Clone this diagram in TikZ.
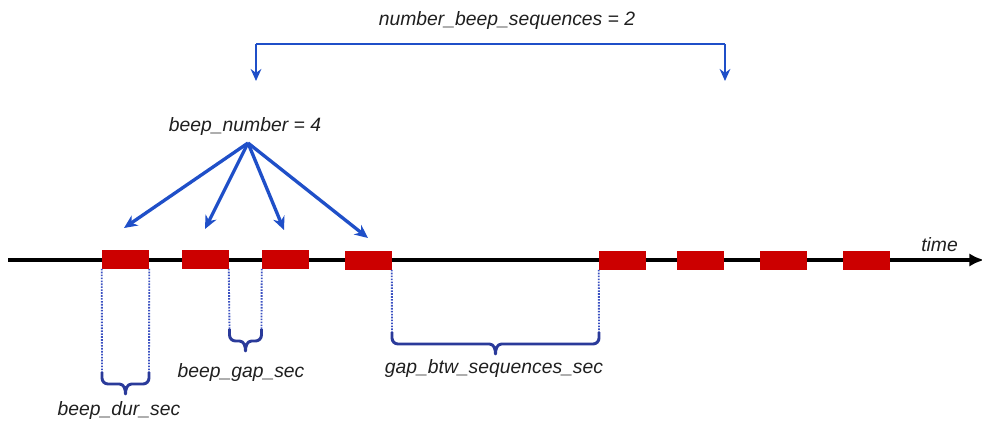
\documentclass[tikz,border=0pt]{standalone}
\usepackage{fontspec}
\setmainfont{Liberation Sans}
\usetikzlibrary{arrows.meta,calc}
\definecolor{beepred}{HTML}{CC0000}
\definecolor{arrowblue}{HTML}{1F4FC8}
\definecolor{bracenavy}{HTML}{2A3A9A}
\definecolor{dotblue}{HTML}{3A50C0}
\newlength{\pxu}\setlength{\pxu}{0.75pt}
\tikzset{
  beep/.style={fill=beepred,draw=none,minimum width=47\pxu,minimum height=19\pxu,inner sep=0pt},
  lbl/.style={font=\fontsize{14.5}{16}\selectfont\itshape,text=black!88,inner sep=0pt},
  bluearrow/.style={draw=arrowblue,line width=2.5pt,-{Stealth[length=10pt,width=9pt]}},
  bracketarrow/.style={draw=arrowblue,line width=2.1pt,-{Stealth[length=9pt,width=8pt]}},
  dotline/.style={draw=dotblue,line width=1.4pt,dash pattern=on 1.2pt off 1pt},
  bracestyle/.style={draw=bracenavy,line width=2.2pt,line join=round},
}
\newcommand{\drawbrace}[2]{%
  \draw[bracestyle] (#1) -- ++(0,6) to[out=-90,in=180] ++(6,6)
    -- ($(#1)!0.5!(#2)+(-6,12)$) to[out=0,in=90] ++(6,10)
    to[out=90,in=180] ++(6,-10)
    -- ($(#2)+(-6,12)$) to[out=0,in=-90] ++(6,-6) -- (#2);}
\begin{document}
\begin{tikzpicture}[x=0.75pt,y=-0.75pt]
\useasboundingbox (0,0) rectangle (982,425);
% time axis
\coordinate (axstart) at (8,260);
\coordinate (axend) at (984,260);
\draw[line width=3pt,-{Latex[length=11pt,width=10pt]}] (axstart) -- (axend);
\node[lbl,anchor=base west] (time) at (921,251) {time};
% beeps
\node[beep] (b1) at (125.5,259) {};
\node[beep] (b2) at (205,259) {};
\node[beep] (b3) at (285.5,259) {};
\node[beep] (b4) at (368,260) {};
\node[beep] (b5) at (622.5,260) {};
\node[beep] (b6) at (700.5,260) {};
\node[beep] (b7) at (783.5,260) {};
\node[beep] (b8) at (866,260) {};
% top bracket
\node[lbl] (nbs) at (507,20) {number\_beep\_sequences = 2};
\coordinate (tl) at (256,44);
\coordinate (tr) at (725,44);
\coordinate (tle) at (256,81);
\coordinate (tre) at (725,81);
\draw[draw=arrowblue,line width=2.1pt] (tl) -- (tr);
\draw[bracketarrow] (tr) -- (tre);
\draw[bracketarrow] (tl) -- (tle);
% beep_number
\node[lbl] (bn) at (245,126) {beep\_number = 4};
\coordinate (bo) at (248,143);
\coordinate (e1) at (124,228);
\coordinate (e2) at (205,229);
\coordinate (e3) at (284,230);
\coordinate (e4) at (368,238);
\draw[bluearrow] (bo) -- (e1);
\draw[bluearrow] (bo) -- (e2);
\draw[bluearrow] (bo) -- (e3);
\draw[bluearrow] (bo) -- (e4);
% beep_dur_sec
\coordinate (d1) at (102,372);
\coordinate (d2) at (149,372);
\draw[dotline] (b1.south west) -- (d1);
\draw[dotline] (b1.south east) -- (d2);
\drawbrace{d1}{d2}
\node[lbl] (bds) at (119,410) {beep\_dur\_sec};
% beep_gap_sec
\coordinate (g1) at (229.5,329);
\coordinate (g2) at (261.5,329);
\draw[dotline] (b2.south east) -- (g1);
\draw[dotline] (b3.south west) -- (g2);
\drawbrace{g1}{g2}
\node[lbl] (bgs) at (241,372) {beep\_gap\_sec};
% gap_btw_sequences_sec
\coordinate (s1) at (392,332);
\coordinate (s2) at (599,332);
\draw[dotline] (b4.south east) -- (s1);
\draw[dotline] (b5.south west) -- (s2);
\drawbrace{s1}{s2}
\node[lbl] (gbs) at (494,368) {gap\_btw\_sequences\_sec};
\end{tikzpicture}
\end{document}
